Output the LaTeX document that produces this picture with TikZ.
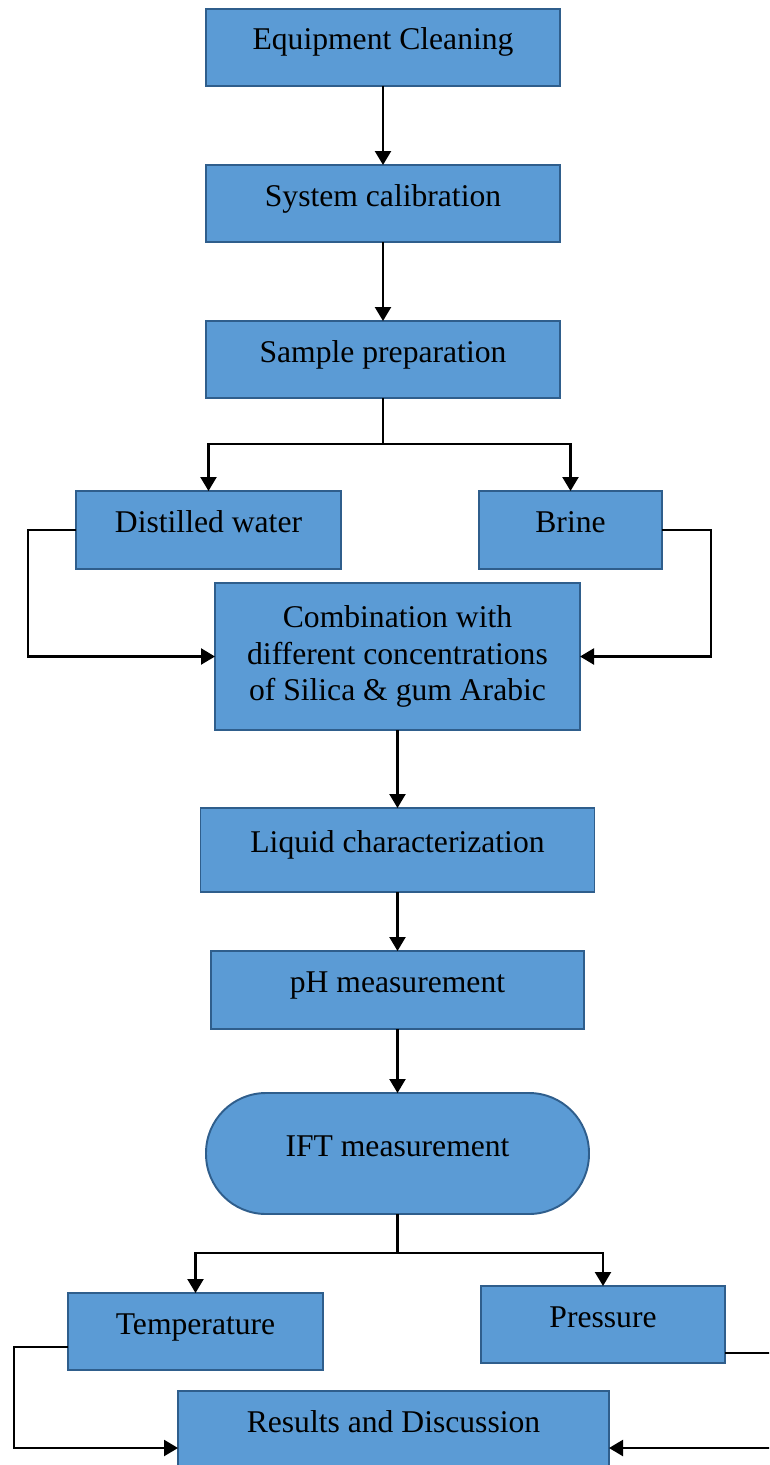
\documentclass[tikz,border=0pt]{standalone}
\usepackage{fontspec}
\setmainfont{Liberation Serif}
\usepackage{xcolor}
\usepackage{tikz}
\usetikzlibrary{arrows.meta,positioning}
\definecolor{stepfill}{HTML}{5B9BD5}
\definecolor{stepline}{HTML}{2F5E8C}

\begin{document}
\begin{tikzpicture}[font=\fontsize{18}{21}\selectfont,
  box/.style={draw=stepline,line width=1.1pt,fill=stepfill,minimum height=1.54cm,inner sep=0pt,outer sep=0pt,align=center,text height=0.5cm,text depth=0.4cm},
  pill/.style={box,rounded corners=1.2cm},
  arr/.style={-{Triangle[length=0.28cm,width=0.32cm]},line width=1.3pt}]
\useasboundingbox (0,0) rectangle (15.38,-29.3);
\clip (0,0) rectangle (15.38,-29.3);
\node[box,minimum width=7.08cm] (ec) at (7.66,-0.95) {Equipment Cleaning};
\node[box,minimum width=7.08cm,below=1.58cm of ec] (sc) {System calibration};
\node[box,minimum width=7.08cm,below=1.58cm of sc] (sp) {Sample preparation};
\node[box,minimum width=5.3cm,minimum height=1.56cm,below=1.86cm of sp,xshift=-3.49cm] (dw) {Distilled water};
\node[box,minimum width=3.66cm,minimum height=1.56cm,below=1.86cm of sp,xshift=3.75cm] (br) {Brine};
\node[box,minimum width=7.3cm,minimum height=2.94cm,text height=,text depth=,below=3.7cm of sp,xshift=0.29cm] (comb) {Combination with\\ different concentrations\\ of Silica \& gum Arabic};
\node[box,minimum width=7.88cm,minimum height=1.68cm,below=1.56cm of comb] (lc) {Liquid characterization};
\node[box,minimum width=7.46cm,minimum height=1.56cm,below=1.18cm of lc] (ph) {pH measurement};
\node[pill,minimum width=7.66cm,minimum height=2.42cm,below=1.28cm of ph] (ift) {IFT measurement};
\node[box,minimum width=5.1cm,below=1.58cm of ift,xshift=-4.04cm] (tp) {Temperature};
\node[box,minimum width=4.88cm,below=1.44cm of ift,xshift=4.11cm] (pr) {Pressure};
\node[box,minimum width=8.62cm,below=3.54cm of ift,xshift=-0.08cm] (rd) {Results and Discussion};
\draw[arr] (ec)--(sc); \draw[arr] (sc)--(sp);
\draw[line width=1.3pt] (sp.south)--++(0,-0.92) coordinate (spj);
\draw[arr] (spj)-|(dw.north); \draw[arr] (spj)-|(br.north);
\draw[arr] (dw.west)--++(-0.96,0)|-(comb.west);
\draw[arr] (br.east)--++(0.98,0)|-(comb.east);
\draw[arr] (comb.south)--(lc.north); \draw[arr] (lc)--(ph); \draw[arr] (ph)--(ift);
\draw[line width=1.3pt] (ift.south)--++(0,-0.78) coordinate (iftj);
\draw[arr] (iftj)-|(tp.north); \draw[arr] (iftj)-|(pr.north);
\draw[arr] ([yshift=-0.31cm]tp.west)--++(-1.08,0)|-([yshift=-0.37cm]rd.west);
\draw[arr] ([yshift=-0.57cm]pr.east)--++(1.2,0)|-([yshift=-0.37cm]rd.east);
\end{tikzpicture}
\end{document}
